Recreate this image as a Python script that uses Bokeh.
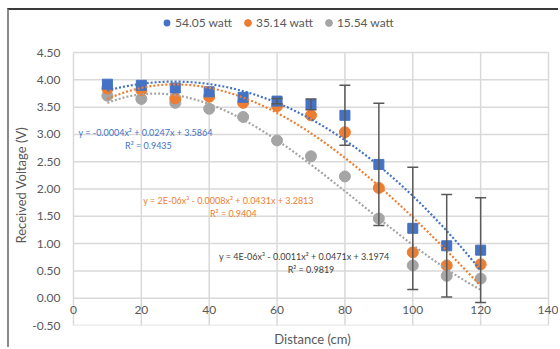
import numpy as np
from bokeh.plotting import figure
from bokeh.models import (ColumnDataSource, Whisker, TeeHead, Legend, LegendItem,
                          Title, Label, NumeralTickFormatter, FixedTicker)
from bokeh.embed import file_html
from bokeh.resources import INLINE

# ---- data ----
distance = [10, 20, 30, 40, 50, 60, 70, 80, 90, 100, 110, 120]
v_54 = [3.92, 3.90, 3.85, 3.78, 3.68, 3.61, 3.55, 3.35, 2.45, 1.28, 0.96, 0.88]
v_35 = [3.84, 3.81, 3.66, 3.69, 3.58, 3.52, 3.35, 3.04, 2.02, 0.84, 0.60, 0.62]
v_15 = [3.71, 3.65, 3.58, 3.47, 3.32, 2.89, 2.60, 2.23, 1.46, 0.60, 0.41, 0.36]
err_54 = [0, 0, 0, 0, 0, 0.05, 0.10, 0.55, 1.12, 1.12, 0.94, 0.96]
series_names = ["54.05 watt", "35.14 watt", "15.54 watt"]
fit_degree = [2, 3, 3]
eq_texts = ["y = -0.0004x² + 0.0247x + 3.5864",
            "y = 2E-06x³ - 0.0008x² + 0.0431x + 3.2813",
            "y = 4E-06x³ - 0.0011x² + 0.0471x + 3.1974"]
r2_texts = ["R² = 0.9435", "R² = 0.9404", "R² = 0.9819"]
x_ticks = [0, 20, 40, 60, 80, 100, 120, 140]
y_ticks = [-0.5, 0, 0.5, 1.0, 1.5, 2.0, 2.5, 3.0, 3.5, 4.0, 4.5]

colors = ["#4472C4", "#ED7D31", "#A5A5A5"]
FONT = "Lato"
GREY_TXT = "#595959"
X0, X1 = 0, 140
Y0, Y1 = -0.5, 4.5
# frame extends a little past the plot area so that edge tick labels and
# the legend row are not clipped
X_LEFT, X_RIGHT = -2.35, 143.24
Y_TOP = 5.27

p = figure(width=551, height=339, output_backend="svg", toolbar_location=None,
           x_range=(X_LEFT, X_RIGHT), y_range=(Y0, Y_TOP),
           min_border_left=55, min_border_right=1, min_border_top=0,
           min_border_bottom=24, outline_line_color=None,
           styles={"margin-left": "7px", "margin-top": "8px",
                   "border-top": "2px solid #3a3a3a",
                   "border-left": "2px solid #8a8a8a"})
p.title.visible = False
p.background_fill_color = "white"
p.border_fill_color = "white"
p.xgrid.visible = False
p.ygrid.visible = False

# grid lines limited to the plot area
GRID = "#D9D9D9"
p.segment(x0=x_ticks, y0=[Y0] * len(x_ticks), x1=x_ticks, y1=[Y1] * len(x_ticks),
          line_color=GRID, line_width=1.5)
p.segment(x0=[X0] * len(y_ticks), y0=y_ticks, x1=[X1] * len(y_ticks), y1=y_ticks,
          line_color=GRID, line_width=1.5)

# x axis drawn at y=0
xa = p.xaxis[0]
xa.fixed_location = 0
xa.ticker = FixedTicker(ticks=x_ticks)
xa.axis_line_color = None
xa.major_tick_line_color = None
xa.minor_tick_line_color = None
xa.major_tick_out = 0
xa.major_tick_in = 0
xa.minor_tick_out = 0
xa.major_label_standoff = 8
xa.major_label_text_font = FONT
xa.major_label_text_font_size = "12px"
xa.major_label_text_color = GREY_TXT

ya = p.yaxis[0]
ya.ticker = FixedTicker(ticks=y_ticks)
ya.formatter = NumeralTickFormatter(format="0.00")
ya.axis_line_color = None
ya.major_tick_line_color = None
ya.minor_tick_line_color = None
ya.major_tick_out = 0
ya.major_tick_in = 0
ya.minor_tick_out = 0
ya.major_label_standoff = 5
ya.major_label_text_font = FONT
ya.major_label_text_font_size = "12px"
ya.major_label_text_color = GREY_TXT

p.add_layout(Title(text="Received Voltage (V)", align="left", offset=82,
                   text_font=FONT, text_font_size="13px", text_font_style="normal",
                   text_color=GREY_TXT, standoff=2), "left")
p.add_layout(Title(text="Distance (cm)", align="center", offset=-8, text_font=FONT,
                   text_font_size="13px", text_font_style="normal",
                   text_color=GREY_TXT, standoff=6), "below")

# error bars (54.05 watt)
idx = [i for i, e in enumerate(err_54) if e > 0]
err_src = ColumnDataSource(dict(
    x=[distance[i] for i in idx],
    upper=[v_54[i] + err_54[i] for i in idx],
    lower=[v_54[i] - err_54[i] for i in idx]))
wh = Whisker(base="x", upper="upper", lower="lower", source=err_src,
             dimension="height", line_color="#595959", line_width=1.5,
             upper_head=TeeHead(size=11, line_color="#595959", line_width=1.5),
             lower_head=TeeHead(size=11, line_color="#595959", line_width=1.5),
             level="glyph")
p.add_layout(wh)

# markers
r15 = p.scatter(distance, v_15, marker="circle", size=11, color=colors[2])
r35 = p.scatter(distance, v_35, marker="circle", size=11, color=colors[1])
r54 = p.scatter(distance, v_54, marker="square", size=10, color=colors[0])
# circle symbol for the 54.05 watt legend entry (zero size on the plot)
r54_key = p.scatter(distance, v_54, marker="circle", size=0, fill_color=colors[0],
                    line_color=None)

# trendlines (least-squares polynomial fits of the data, as Excel does)
xs = np.linspace(distance[0], distance[-1], 200)
for vals, deg, c in zip([v_54, v_35, v_15], fit_degree, colors):
    coef = np.polyfit(distance, vals, deg)
    p.line(xs, np.polyval(coef, xs), line_color=c, line_width=2.2,
           line_dash="2 2")

# equations
eq_pos = [(1.5, 3.03, 22.1, 2.80), (20.6, 1.79, 47.1, 1.56), (42.9, 0.77, 70.0, 0.53)]
eq_colors = ["#4472C4", "#ED7D31", "#404040"]
for (ex, ey, rx, ry), t, r, c in zip(eq_pos, eq_texts, r2_texts, eq_colors):
    p.add_layout(Label(x=ex, y=ey, text=t, text_font=FONT, text_font_size="9px",
                       text_color=c, text_baseline="middle", text_align="left"))
    p.add_layout(Label(x=rx, y=ry, text=r, text_font=FONT, text_font_size="9px",
                       text_color=c, text_baseline="middle", text_align="center"))

# legend
items = [LegendItem(label=series_names[0], renderers=[r54_key]),
         LegendItem(label=series_names[1], renderers=[r35]),
         LegendItem(label=series_names[2], renderers=[r15])]
legend = Legend(items=items, orientation="horizontal", location=(93, 294),
                margin=0, padding=0, spacing=7, glyph_width=17, glyph_height=17,
                label_height=17, label_standoff=0, border_line_color=None,
                background_fill_alpha=0, label_text_font=FONT,
                label_text_font_size="12px", label_text_color=GREY_TXT)
p.add_layout(legend)

open("out.html", "w").write(file_html(p, INLINE))
